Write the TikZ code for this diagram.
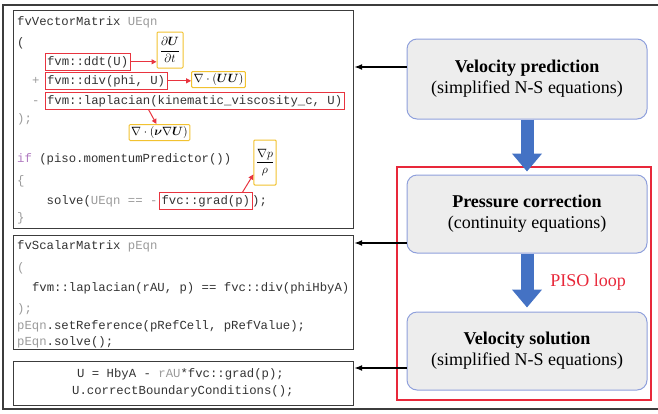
\documentclass[tikz,border=0pt]{standalone}
\usepackage{amsmath}
\usepackage{fontspec}
\setmainfont{Liberation Serif}
\setmonofont{Liberation Mono}
\usepackage{tikz}
\usetikzlibrary{arrows.meta,positioning}
\definecolor{codeGray}{HTML}{333333}
\definecolor{lightGray}{HTML}{9A9A9A}
\definecolor{keyPurple}{HTML}{B07AC0}
\definecolor{frameGray}{HTML}{3C3C3C}
\definecolor{markRed}{HTML}{E8343F}
\definecolor{mathYellow}{HTML}{F2C230}
\definecolor{flowBlue}{HTML}{4472C4}
\definecolor{boxFill}{HTML}{EDEDED}
\definecolor{boxEdge}{HTML}{8FA0DC}
\definecolor{loopRed}{HTML}{E8283A}
\newcommand{\codefont}{\fontsize{12.3}{14}\selectfont\ttfamily}

\begin{document}
\begin{tikzpicture}[x=1pt,y=-1pt,
  code/.style={font=\codefont,text=codeGray,inner sep=0pt,anchor=base west},
  faint/.style={code,text=lightGray},
  hlbox/.style={draw=markRed,line width=1pt,font=\codefont,text=codeGray,inner xsep=2pt,inner ysep=2.5pt,anchor=base west},
  mathbox/.style={draw=mathYellow,line width=1pt,rounded corners=1pt,fill=white,inner sep=2pt,font=\fontsize{13}{15}\selectfont},
  hlarrow/.style={markRed,line width=1pt,-{Triangle[width=5pt,length=5pt]}},
  codebox/.style={draw=frameGray,line width=1.2pt,anchor=north west,minimum width=340pt},
  stagebox/.style={draw=boxEdge,fill=boxFill,rounded corners=10pt,line width=1pt,minimum width=240pt,align=center,font=\fontsize{18}{21}\selectfont},
  flowarrow/.style={flowBlue,line width=13pt,-{Triangle[width=29pt,length=18pt]}},
  linkarrow/.style={black,line width=1.5pt,-{Latex[length=8pt,width=6pt]}}]
\useasboundingbox (0,0) rectangle (658,413);
\draw[frameGray,line width=1.5pt] (660,5) -- (3,5) -- (3,409) -- (660,409);

% code boxes
\node[codebox,minimum height=218pt] (ueqnbox) at (13,10) {};
\node[codebox,minimum height=114pt] (peqnbox) at (13,235) {};
\node[codebox,minimum height=44pt] (ubox) at (13,361) {};

% momentum equation
\node[code] (l1) at (17,25) {fvVectorMatrix \textcolor{lightGray}{UEqn}};
\node[code] (l2) at (17,46) {(};
\node[hlbox] (ddt) at (44.5,65) {fvm::ddt(U)};
\node[faint] (plus) at (31.8,84) {+};
\node[hlbox] (div) at (44.5,84) {fvm::div(phi, U)};
\node[faint] (minus) at (31.8,104) {-};
\node[hlbox] (lap) at (44.5,104) {fvm::laplacian(kinematic\_viscosity\_c, U)};
\node[faint] (l6) at (17,122) {);};
\node[code] (l7) at (17,162) {\textcolor{keyPurple}{if} (piso.momentumPredictor())};
\node[faint] (l8) at (17,184) {\{};
\node[code] (l9) at (46.5,204) {solve(\textcolor{lightGray}{UEqn == -}};
\node[hlbox] (grad) at (159,204) {fvc::grad(p)};
\node[code] (l9b) at (252,204) {);};
\node[faint] (l10) at (17,221) {\}};

\node[mathbox,minimum width=26pt,minimum height=36pt] (dUdt) at (170,50) {$\dfrac{\partial\boldsymbol{U}}{\partial t}$};
\node[mathbox] (divm) at (218.5,79.5) {$\nabla\cdot(\boldsymbol{U}\boldsymbol{U})$};
\node[mathbox] (lapm) at (159.5,132.5) {$\nabla\cdot(\boldsymbol{\nu}\nabla\boldsymbol{U})$};
\node[mathbox,minimum height=45pt] (gradm) at (265,162.5) {$\dfrac{\nabla p}{\rho}$};

\draw[hlarrow] (ddt.east) -- (ddt.east -| dUdt.west);
\draw[hlarrow] (div.east) -- (div.east -| divm.west);
\draw[hlarrow] ([xshift=104pt]lap.south west) -- ([xshift=-3pt]lapm.north);
\draw[hlarrow] ([xshift=-10pt]grad.north east) -- ([yshift=-12pt]gradm.west);

% pressure equation
\node[code] (p1) at (17,249) {fvScalarMatrix \textcolor{lightGray}{pEqn}};
\node[faint] (p2) at (17,271) {(};
\node[code] (p3) at (31.8,291) {fvm::laplacian(rAU, p) == fvc::div(phiHbyA)};
\node[faint] (p4) at (17,312) {);};
\node[code] (p5) at (17,329) {\textcolor{lightGray}{pEqn}.setReference(pRefCell, pRefValue);};
\node[code] (p6) at (17,345) {\textcolor{lightGray}{pEqn}.solve();};

% velocity correction
\node[code] (u1) at (77,377) {U = HbyA - \textcolor{lightGray}{rAU}*fvc::grad(p);};
\node[code] (u2) at (72,394) {U.correctBoundaryConditions();};

% algorithm steps
\node[stagebox,minimum height=80pt] (vpred) at (527,79) {\textbf{Velocity prediction}\\(simplified N-S equations)};
\node[stagebox,minimum height=78pt] (pcorr) at (527,214) {\textbf{Pressure correction}\\(continuity equations)};
\node[stagebox,minimum height=78pt] (vsol) at (527,351) {\textbf{Velocity solution}\\(simplified N-S equations)};
\draw[loopRed,line width=1.2pt] (397,167) rectangle (651,400);
\node[text=loopRed,font=\fontsize{18}{20}\selectfont] (piso) at (588,282) {PISO loop};
\draw[flowarrow] (vpred.south) -- ([yshift=3pt]pcorr.north);
\draw[flowarrow] (pcorr.south) -- ([yshift=4pt]vsol.north);

\coordinate (vpredOut) at ([yshift=12pt]vpred.west);
\coordinate (pcorrOut) at ([yshift=-29pt]pcorr.west);
\coordinate (vsolOut) at ([yshift=-17pt]vsol.west);
\draw[linkarrow] (vpredOut) -- (vpredOut -| ueqnbox.east);
\draw[linkarrow] (pcorrOut) -- (pcorrOut -| peqnbox.east);
\draw[linkarrow] (vsolOut) -- (vsolOut -| ubox.east);
\end{tikzpicture}
\end{document}
